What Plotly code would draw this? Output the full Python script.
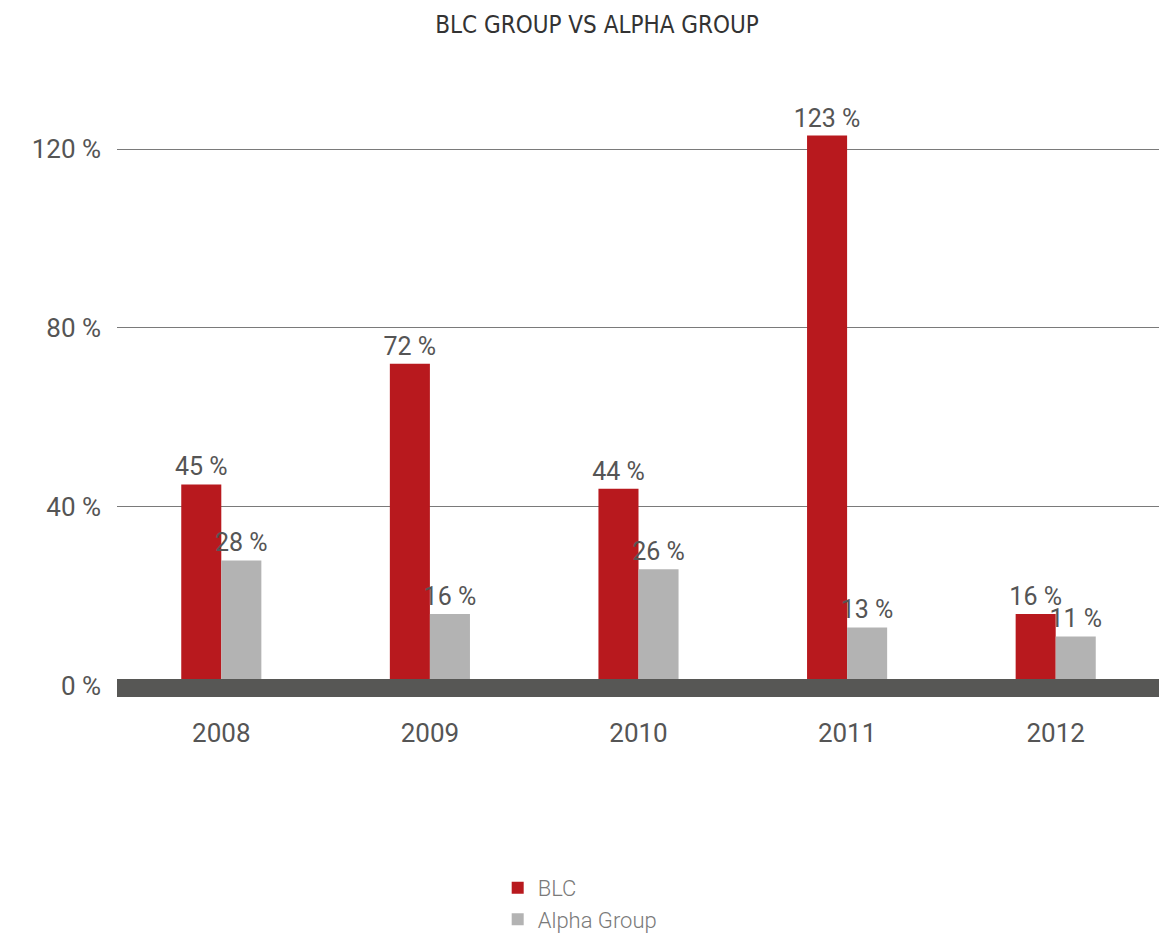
import plotly.graph_objects as go

years = ["2008", "2009", "2010", "2011", "2012"]
blc = [45, 72, 44, 123, 16]
alpha = [28, 16, 26, 13, 11]
ytick_vals = [0, 40, 80, 120]
ytick_text = ["0 %", "40 %", "80 %", "120 %"]

RED = "#B8191E"
GRAY = "#B3B3B3"
TXT = "#555555"
FONT = "Roboto"

fig = go.Figure()
fig.add_trace(go.Bar(
    x=years, y=blc, name="BLC", marker=dict(color=RED, line=dict(width=0)),
    text=[f"{v} %" for v in blc], textposition="outside", constraintext="none",
    textfont=dict(family=FONT, size=25, color=TXT), cliponaxis=False,
))
fig.add_trace(go.Bar(
    x=years, y=alpha, name="Alpha Group", marker=dict(color=GRAY, line=dict(width=0)),
    text=[f"{v} %" for v in alpha], textposition="outside", constraintext="none",
    textfont=dict(family=FONT, size=25, color=TXT), cliponaxis=False,
))

# thick dark baseline band
fig.add_shape(type="rect", xref="paper", yref="y", x0=0, x1=1, y0=-2.55, y1=1.5,
              fillcolor="#575755", line=dict(width=0), layer="above")

fig.update_layout(
    width=1159, height=932,
    paper_bgcolor="white", plot_bgcolor="white",
    margin=dict(l=109, r=7, t=82, b=243, autoexpand=False),
    barmode="group", bargap=0.616, bargroupgap=0,
    title=dict(text="BLC GROUP VS ALPHA GROUP", x=0.5082, xref="container", xanchor="center",
               y=0.9818, yanchor="middle",
               font=dict(family="Liberation Sans Narrow, DejaVu Sans Condensed", size=24, color="#333333")),
    showlegend=True,
    legend=dict(orientation="v", x=0.365, xanchor="left", y=-0.28, yanchor="top",
                font=dict(family=FONT, size=22, color="#7a7a7a", weight=300),
                traceorder="normal", itemwidth=30, tracegroupgap=0),
    xaxis=dict(showline=False, showgrid=False, zeroline=False, ticks="", automargin=False,
               tickfont=dict(family=FONT, size=26, color=TXT), ticklabelstandoff=18),
    yaxis=dict(range=[-2.55, 133.2], tickvals=ytick_vals, ticktext=ytick_text, automargin=False,
               showgrid=True, gridcolor="#7a7a7a", gridwidth=1, zeroline=False, showline=False,
               ticks="", tickfont=dict(family=FONT, size=26, color=TXT), ticklabelstandoff=15),
)

fig.write_html("out.html")
